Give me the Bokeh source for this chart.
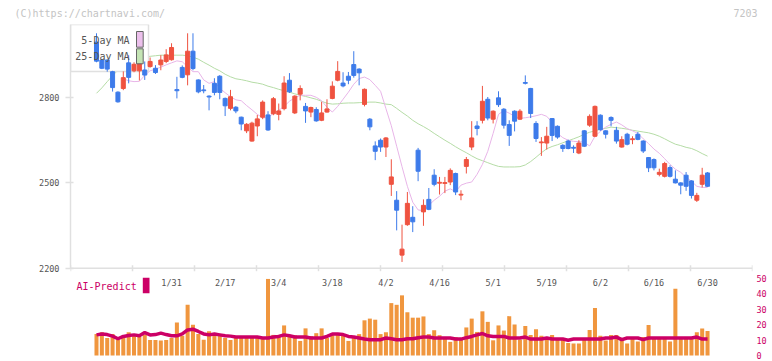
import numpy as np
from bokeh.plotting import figure
from bokeh.layouts import column
from bokeh.models import (Range1d, LinearAxis, FixedTicker, Span, Label,
                          BoxAnnotation, ColumnDataSource)
from bokeh.core.properties import value
from bokeh.embed import file_html
from bokeh.resources import INLINE

# ---------------- data ----------------
dates = [
    "2025-01-10", "2025-01-14", "2025-01-15", "2025-01-16", "2025-01-17", "2025-01-20", "2025-01-21",
    "2025-01-22", "2025-01-23", "2025-01-24", "2025-01-27", "2025-01-28", "2025-01-29", "2025-01-30",
    "2025-01-31",
    "2025-02-03", "2025-02-04", "2025-02-05", "2025-02-06", "2025-02-07", "2025-02-10", "2025-02-12",
    "2025-02-13", "2025-02-14", "2025-02-17", "2025-02-18", "2025-02-19", "2025-02-20", "2025-02-21",
    "2025-02-25", "2025-02-26", "2025-02-27", "2025-02-28",
    "2025-03-03", "2025-03-04", "2025-03-05", "2025-03-06", "2025-03-07", "2025-03-10", "2025-03-11",
    "2025-03-12", "2025-03-13", "2025-03-14", "2025-03-17", "2025-03-18", "2025-03-19", "2025-03-21",
    "2025-03-24", "2025-03-25", "2025-03-26", "2025-03-27", "2025-03-28", "2025-03-31",
    "2025-04-01", "2025-04-02", "2025-04-03", "2025-04-04", "2025-04-07", "2025-04-08", "2025-04-09",
    "2025-04-10", "2025-04-11", "2025-04-14", "2025-04-15", "2025-04-16", "2025-04-17", "2025-04-18",
    "2025-04-21", "2025-04-22", "2025-04-23", "2025-04-24", "2025-04-25", "2025-04-28", "2025-04-30",
    "2025-05-01", "2025-05-02", "2025-05-07", "2025-05-08", "2025-05-09", "2025-05-12", "2025-05-13",
    "2025-05-14", "2025-05-15", "2025-05-16", "2025-05-19", "2025-05-20", "2025-05-21", "2025-05-22",
    "2025-05-23", "2025-05-26", "2025-05-27", "2025-05-28", "2025-05-29", "2025-05-30",
    "2025-06-02", "2025-06-03", "2025-06-04", "2025-06-05", "2025-06-06", "2025-06-09", "2025-06-10",
    "2025-06-11", "2025-06-12", "2025-06-13", "2025-06-16", "2025-06-17", "2025-06-18", "2025-06-19",
    "2025-06-20", "2025-06-23", "2025-06-24", "2025-06-25", "2025-06-26", "2025-06-27", "2025-06-30",
]

opens = [
    2995, 2932, 2932, 2891, 2819, 2832, 2922, 2894, 2894, 2897, 2909, 2903, 2915, 2927,
    2933, 2828, 2906, 2880, 2963, 2862, 2827, 2805, 2850, 2875,
    2797, 2762, 2766, 2731, 2683, 2647, 2700, 2731, 2739, 2743,
    2741, 2761, 2861, 2746, 2812, 2769, 2749, 2758, 2720, 2749,
    2797, 2861, 2851, 2875, 2916, 2900, 2776, 2724, 2630, 2650,
    2626, 2495, 2439, 2246, 2353, 2379, 2615, 2398, 2442, 2527,
    2499, 2498, 2503, 2533, 2457, 2558, 2626, 2700, 2720, 2794,
    2724, 2799, 2759, 2705, 2752, 2724, 2853, 2832, 2709, 2641,
    2640, 2726, 2699, 2632, 2647, 2625, 2605, 2683, 2703, 2664,
    2738, 2683, 2730, 2685, 2626, 2671, 2652, 2671, 2647, 2589,
    2582, 2530, 2523, 2554, 2513, 2500, 2527, 2507, 2439, 2495, 2535,
]
highs = [
    3026, 2936, 2934, 2894, 2822, 2892, 2949, 2924, 2940, 2927, 2941, 2914, 2949, 2970,
    2991, 2873, 2913, 3026, 3026, 2864, 2844, 2808, 2868, 2879,
    2800, 2827, 2770, 2733, 2710, 2715, 2739, 2790, 2752, 2802,
    2779, 2875, 2886, 2808, 2843, 2781, 2768, 2766, 2785, 2794,
    2857, 2928, 2889, 2890, 2963, 2903, 2832, 2728, 2646, 2656,
    2661, 2583, 2471, 2353, 2468, 2418, 2623, 2442, 2482, 2548,
    2521, 2521, 2551, 2536, 2474, 2591, 2717, 2717, 2841, 2802,
    2755, 2822, 2763, 2720, 2755, 2759, 2878, 2834, 2717, 2661,
    2697, 2728, 2702, 2636, 2652, 2632, 2650, 2686, 2741, 2772,
    2741, 2685, 2734, 2697, 2664, 2676, 2664, 2679, 2650, 2591,
    2586, 2550, 2574, 2562, 2544, 2502, 2538, 2509, 2465, 2553, 2538,
]
lows = [
    2924, 2900, 2891, 2821, 2782, 2826, 2850, 2889, 2860, 2862, 2905, 2883, 2896, 2921,
    2930, 2797, 2868, 2843, 2896, 2815, 2815, 2755, 2808, 2794,
    2735, 2755, 2745, 2685, 2675, 2645, 2664, 2724, 2683, 2738,
    2720, 2755, 2816, 2742, 2790, 2711, 2731, 2715, 2717, 2747,
    2794, 2857, 2836, 2847, 2870, 2843, 2769, 2685, 2580, 2609,
    2591, 2454, 2333, 2222, 2349, 2327, 2506, 2349, 2404, 2488,
    2459, 2464, 2492, 2457, 2439, 2533, 2615, 2667, 2709, 2720,
    2709, 2767, 2691, 2630, 2681, 2721, 2846, 2728, 2644, 2595,
    2617, 2647, 2655, 2609, 2618, 2605, 2601, 2626, 2697, 2661,
    2683, 2656, 2699, 2638, 2624, 2632, 2636, 2650, 2605, 2538,
    2544, 2523, 2519, 2519, 2498, 2460, 2472, 2445, 2433, 2484, 2486,
]
closes = [
    2928, 2903, 2900, 2835, 2785, 2870, 2871, 2917, 2923, 2879, 2927, 2888, 2932, 2950,
    2976, 2824, 2871, 2963, 2902, 2820, 2824, 2802, 2818, 2818,
    2771, 2803, 2753, 2707, 2706, 2710, 2725, 2784, 2686, 2796,
    2753, 2851, 2820, 2805, 2832, 2753, 2765, 2718, 2746, 2760,
    2840, 2892, 2841, 2861, 2878, 2887, 2829, 2697, 2611, 2626,
    2658, 2521, 2404, 2267, 2428, 2363, 2541, 2421, 2407, 2495,
    2502, 2501, 2544, 2468, 2460, 2582, 2658, 2691, 2787, 2728,
    2752, 2775, 2703, 2667, 2717, 2752, 2850, 2744, 2656, 2644,
    2664, 2667, 2661, 2621, 2621, 2622, 2640, 2629, 2734, 2769,
    2687, 2671, 2720, 2647, 2652, 2636, 2655, 2653, 2612, 2553,
    2553, 2537, 2568, 2523, 2500, 2492, 2488, 2456, 2456, 2527, 2488,
]
nan = float("nan")
ma5 = [
    nan, nan, nan, nan, nan, 2866, 2859, 2856, 2857, 2878, 2894, 2900, 2907, 2915,
    2922, 2929, 2926, 2908, 2891, 2891, 2862, 2850, 2856, 2833,
    2817, 2803, 2792, 2789, 2772, 2757, 2741, 2729, 2729, 2745,
    2755, 2769, 2787, 2799, 2808, 2808, 2808, 2801, 2789, 2766,
    2749, 2769, 2794, 2819, 2847, 2867, 2872, 2863, 2843, 2822,
    2761, 2701, 2629, 2557, 2488, 2432, 2405, 2402, 2421, 2439,
    2453, 2471, 2479, 2469, 2492, 2499, 2503, 2530, 2565, 2611,
    2674, 2741, 2754, 2745, 2734, 2727, 2729, 2732, 2736, 2741,
    2734, 2713, 2674, 2659, 2650, 2646, 2645, 2643, 2630, 2664,
    2681, 2696, 2706, 2714, 2704, 2691, 2683, 2674, 2655, 2638,
    2619, 2604, 2585, 2565, 2548, 2537, 2520, 2506, 2488, 2484, 2484,
]
ma25 = [
    2815, 2834, 2856, 2877, 2896, 2910, 2921, 2929, 2936, 2942, 2945, 2947, 2949, 2949,
    2949, 2949, 2949, 2947, 2942, 2935, 2924, 2914, 2903, 2894,
    2882, 2873, 2866, 2863, 2859, 2854, 2851, 2847, 2840, 2835,
    2829, 2824, 2819, 2813, 2808, 2804, 2799, 2794, 2787, 2780,
    2777, 2778, 2780, 2781, 2781, 2782, 2783, 2784, 2784, 2781,
    2777, 2775, 2762, 2748, 2735, 2720, 2708, 2698, 2687, 2674,
    2662, 2650, 2639, 2627, 2616, 2606, 2595, 2585, 2578, 2571,
    2564, 2558, 2556, 2556, 2556, 2557, 2563, 2575, 2590, 2606,
    2620, 2628, 2634, 2641, 2648, 2655, 2662, 2671, 2678, 2683,
    2689, 2692, 2696, 2694, 2692, 2689, 2685, 2682, 2679, 2676,
    2671, 2664, 2655, 2645, 2636, 2631, 2625, 2621, 2613, 2603, 2594,
]
volume = [
    13.9, 15.0, 11.3, 13.8, 10.2, 12.7, 15.0, 12.7, 11.9, 13.3, 10.0, 10.0, 9.6, 10.0,
    11.3, 21.3, 12.7, 32.7, 19.8, 13.9, 10.2, 15.6, 13.8, 12.7,
    11.3, 10.0, 11.3, 11.3, 11.3, 11.3, 12.1, 11.3, 49.4, 13.3,
    13.3, 19.4, 13.3, 13.1, 9.4, 17.5, 12.5, 14.4, 17.5, 11.3,
    14.4, 14.4, 13.3, 9.4, 11.3, 13.8, 22.7, 23.8, 23.1, 13.8,
    15.0, 33.8, 32.7, 38.8, 27.9, 24.4, 24.4, 25.2, 13.8, 16.3,
    13.1, 11.9, 8.8, 11.9, 10.2, 18.1, 23.8, 15.2, 28.5, 21.7,
    9.8, 19.4, 16.1, 25.4, 20.0, 10.2, 19.0, 13.3, 16.9, 12.7,
    11.3, 13.3, 10.8, 10.8, 8.1, 7.7, 7.7, 10.8, 16.5, 30.6,
    12.7, 9.6, 13.3, 13.3, 10.8, 7.7, 10.8, 9.1, 11.9, 19.6,
    10.8, 10.8, 10.8, 9.1, 43.1, 10.8, 10.8, 10.8, 15.0, 17.5, 15.8,
]
ai_predict = [
    13.3, 13.9, 13.5, 12.5, 10.8, 12.3, 12.9, 13.3, 12.7, 14.8, 13.3, 13.5, 14.4, 13.5,
    12.7, 12.7, 13.9, 16.5, 17.0, 15.5, 13.9, 13.3, 13.9, 13.3,
    12.7, 12.5, 11.9, 11.9, 11.9, 11.9, 11.9, 11.3, 11.3, 11.9,
    12.3, 13.3, 12.7, 11.9, 11.9, 11.9, 11.3, 11.3, 11.3, 12.3,
    13.8, 13.8, 13.5, 12.3, 11.9, 11.3, 10.6, 10.2, 10.2, 10.2,
    11.3, 10.8, 10.2, 10.2, 10.8, 10.8, 11.5, 11.9, 11.9, 11.3,
    11.3, 11.3, 11.3, 10.6, 10.6, 11.5, 12.3, 13.3, 14.2, 12.7,
    12.3, 12.3, 12.3, 11.3, 11.3, 11.3, 11.9, 10.6, 10.6, 10.6,
    11.3, 10.6, 10.6, 10.6, 9.8, 10.6, 10.6, 10.6, 10.6, 10.6,
    10.6, 11.3, 11.3, 11.9, 10.2, 11.3, 11.3, 11.3, 10.2, 11.3,
    11.3, 11.3, 11.3, 11.3, 11.3, 11.3, 11.3, 11.3, 11.9, 10.6, 10.6,
]
price_ticks = [2200, 2500, 2800]
ai_ticks = [0, 10, 20, 30, 40, 50]
first_label = 14     # index of 1/31
label_step = 10
legend_names = ["5-Day MA", "25-Day MA"]
header_left = "(C)https://chartnavi.com/"
header_right = "7203"

# ---------------- layout / styles (image pixel coordinates) ----------------
TOTAL_W, TOTAL_H = 772, 361
HDR_H = 24                                  # header strip height
FL, FR = 70, 752                           # frame left / right
FT, FB = HDR_H, TOTAL_H                    # frame top / bottom
PX_IDX = 5.36                              # px per trading day
FIRST_PX = 96                              # x of first candle
x_start = -(FIRST_PX - FL) / PX_IDX
x_end = x_start + (FR - FL) / PX_IDX
PX_YEN = 0.2844
Y_BASE = 2200
Y_BASE_PX = 267.7
y_start = Y_BASE - (FB - Y_BASE_PX) / PX_YEN
y_end = Y_BASE + (Y_BASE_PX - FT) / PX_YEN
PX_AI = 1.55
AI0_PX = 355
ai_start = -(FB - AI0_PX) / PX_AI
ai_end = (AI0_PX - FT) / PX_AI


def xd(px):
    return x_start + (px - FL) / PX_IDX


def yd(py):
    return Y_BASE + (Y_BASE_PX - py) / PX_YEN


UP, DOWN = "#ef5340", "#3d7bea"
GRID = "#e0e0e0"
MAG = "#cc0066"
MONO = "DejaVu Sans Mono"

idx = list(range(len(dates)))

# ---------------- header strip ----------------
hdr = figure(width=TOTAL_W, height=HDR_H, x_range=Range1d(0, TOTAL_W),
             y_range=Range1d(HDR_H, 0), output_backend="svg",
             toolbar_location=None, x_axis_location=None, y_axis_location=None,
             min_border=0, outline_line_color=None,
             background_fill_color="white", border_fill_color="white")
try:
    hdr.frame_align = False
except Exception:
    pass
hdr.grid.visible = False
hdr.text(x=[14], y=[12.5], text=[header_left], text_font=value(MONO),
         text_font_size="10px", text_color="#c4c4c4", text_align="left",
         text_baseline="middle")
hdr.text(x=[757], y=[12.5], text=[header_right], text_font=value(MONO),
         text_font_size="10px", text_color="#c4c4c4", text_align="right",
         text_baseline="middle")

# ---------------- main chart ----------------
p = figure(width=TOTAL_W, height=TOTAL_H - HDR_H, x_range=Range1d(x_start, x_end),
           y_range=Range1d(y_start, y_end), output_backend="svg",
           toolbar_location=None, x_axis_location=None,
           min_border_left=FL, min_border_right=TOTAL_W - FR,
           min_border_top=0, min_border_bottom=0,
           outline_line_color=None, background_fill_color="white",
           border_fill_color="white")
try:
    p.frame_align = False
except Exception:
    pass
p.extra_y_ranges = {"ai": Range1d(ai_start, ai_end)}
p.grid.visible = False

ya = p.yaxis[0]
ya.ticker = FixedTicker(ticks=price_ticks)
ya.bounds = (Y_BASE, y_end)
ya.axis_line_color = GRID
ya.axis_line_width = 1.5
ya.major_tick_line_color = GRID
ya.major_tick_line_width = 1.3
ya.major_tick_out = 5
ya.major_tick_in = 3
ya.minor_tick_line_color = None
ya.major_label_text_font = MONO
ya.major_label_text_font_size = "8.5px"
ya.major_label_text_color = "#555555"
ya.major_label_standoff = 6

ra = LinearAxis(y_range_name="ai", ticker=FixedTicker(ticks=ai_ticks),
                axis_line_color=None, major_tick_line_color=None,
                minor_tick_line_color=None, major_tick_out=0, major_tick_in=0,
                major_label_text_color=MAG, major_label_text_font=MONO,
                major_label_text_font_size="8.5px", major_label_standoff=4)
p.add_layout(ra, "right")

# moving averages (under the legend box)
p.line(idx, ma25, line_color="#b5dca6", line_width=1, level="image")
p.line(idx, ma5, line_color="#e8b5e8", line_width=1, level="image")

# legend box
p.add_layout(BoxAnnotation(left=x_start, right=xd(148), top=y_end, bottom=yd(71),
                           fill_color="white", fill_alpha=1, line_color=GRID,
                           line_alpha=1, line_width=1.5, level="underlay"))

# bottom axis line + tick marks
p.add_layout(Span(location=Y_BASE, dimension="width", line_color=GRID,
                  line_width=1.5, level="underlay"))
tick_x = np.linspace(x_start, x_end, 12)
p.scatter(tick_x, [Y_BASE] * len(tick_x), marker="dash", angle=np.pi / 2, size=6,
          line_color=GRID, line_width=1.5)

# candles
src = ColumnDataSource(dict(
    x=idx, o=opens, h=highs, l=lows, c=closes,
    top=[max(o, c) for o, c in zip(opens, closes)],
    bottom=[min(o, c) for o, c in zip(opens, closes)],
    color=[UP if c >= o else DOWN for o, c in zip(opens, closes)],
))
p.segment(x0="x", y0="h", x1="x", y1="l", line_color="color", line_width=1, source=src)
p.vbar(x="x", top="top", bottom="bottom", width=0.75, fill_color="color",
       line_color="color", line_width=1, source=src)

# lower panel
p.vbar(x=idx, top=volume, bottom=0, width=0.75, y_range_name="ai",
       fill_color="#f0963e", line_color=None)
p.line(idx, ai_predict, y_range_name="ai", line_color=MAG, line_width=3.5)

# date labels
lab_idx = idx[first_label::label_step]
lab_txt = [f"{int(d[5:7])}/{int(d[8:10])}" for d in dates[first_label::label_step]]
p.text(x=lab_idx, y=[yd(282.3)] * len(lab_idx), text=lab_txt,
       text_font=value(MONO), text_font_size="8.5px", text_color="#555555",
       text_align="center", text_baseline="middle")

# legend
p.add_layout(Label(x=xd(129), y=yd(39.7), text=legend_names[0], text_font=MONO,
                   text_font_size="10px", text_color="#555555",
                   text_align="right", text_baseline="middle"))
p.add_layout(Label(x=xd(129), y=yd(56.3), text=legend_names[1], text_font=MONO,
                   text_font_size="10px", text_color="#555555",
                   text_align="right", text_baseline="middle"))
p.add_layout(BoxAnnotation(left=xd(136), right=xd(142.7), top=yd(31), bottom=yd(46.7),
                           fill_color="#ecc0ec", fill_alpha=1, line_color="#666666",
                           line_alpha=1, line_width=1))
p.add_layout(BoxAnnotation(left=xd(136), right=xd(142.7), top=yd(48.3), bottom=yd(63.3),
                           fill_color="#c4e4b4", fill_alpha=1, line_color="#666666",
                           line_alpha=1, line_width=1))

# AI-Predict label
p.add_layout(Label(x=xd(76), y=yd(286), text="AI-Predict", text_font=MONO,
                   text_font_size="10px", text_color=MAG, text_baseline="middle"))
p.add_layout(BoxAnnotation(left=xd(142.3), right=xd(149), top=yd(277.3), bottom=yd(292.7),
                           fill_color=MAG, fill_alpha=1, line_color=None))

layout = column(hdr, p, spacing=0)
open("out.html", "w").write(file_html(layout, INLINE))
